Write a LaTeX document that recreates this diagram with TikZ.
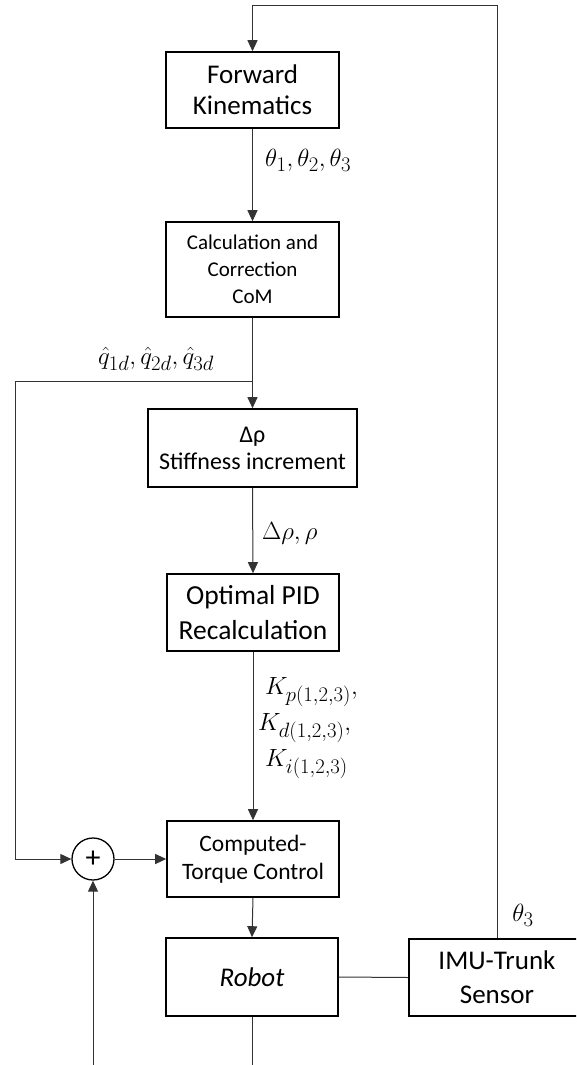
\documentclass[tikz,border=0pt]{standalone}
\usepackage[no-math]{fontspec}
\setmainfont{Carlito}
\usetikzlibrary{arrows.meta}
\begin{document}
\begin{tikzpicture}[x=1pt,y=-1pt,
  blk/.style={draw=black,line width=1.6pt,fill=white,align=center,inner sep=0pt,anchor=center},
  conn/.style={draw=black!80,line width=1pt},
  arr/.style={conn,-{Triangle[length=11pt,width=10pt]}},
  lbl/.style={inner sep=0pt,font=\fontsize{31}{36}\selectfont}
]
\useasboundingbox (0,0) rectangle (576,1065);
\clip (0,0) rectangle (576,1065);
\fill[white] (0,0) rectangle (576,1065);

\node[blk,minimum width=173pt,minimum height=76pt,font=\fontsize{27}{31}\selectfont] (fk) at (252.5,90) {Forward\\Kinematics};
\node[blk,minimum width=173pt,minimum height=95pt,font=\fontsize{21}{27}\selectfont] (calc) at (252.5,269.5) {Calculation and\\Correction\\CoM};
\node[blk,minimum width=209pt,minimum height=78pt,font=\fontsize{24}{27}\selectfont] (dr) at (252.5,448) {Δρ\\Stiffness increment};
\node[blk,minimum width=172pt,minimum height=77pt,font=\fontsize{27.5}{35}\selectfont] (opt) at (253,612.5) {Optimal PID\\Recalculation};
\node[blk,minimum width=172pt,minimum height=76pt,font=\fontsize{23.5}{28}\selectfont] (ctc) at (253,859) {Computed-\\Torque Control};
\node[blk,minimum width=172pt,minimum height=78pt,font=\fontsize{27}{30}\selectfont\itshape] (rob) at (252,977) {Robot};
\node[blk,minimum width=176pt,minimum height=77pt,font=\fontsize{27}{34}\selectfont] (imu) at (497,977.5) {IMU-Trunk\\Sensor};
\node[draw=black,line width=1.3pt,circle,minimum size=42pt,inner sep=0pt,font=\fontsize{30}{30}\selectfont] (sum) at (93,859) {+};

\coordinate (top1) at (497,6);
\coordinate (top2) at (252.5,6);
\coordinate (br) at (252.5,381);
\coordinate (brl) at (15,381);
\coordinate (brb) at (15,859);
\coordinate (inb) at (93,1065);
\coordinate (outb) at (252,1065);

\draw[arr] (imu.north) -- (top1) -- (top2) -- (fk.north);
\draw[arr] (fk.south) -- (calc.south |- calc.north);
\draw[arr] (calc.south) -- (dr.north);
\draw[arr] (br) -- (brl) -- (brb) -- (sum.west);
\draw[arr] (dr.south) -- (opt.north);
\draw[arr] (opt.south) -- (ctc.north);
\draw[arr] (sum.east) -- (ctc.west);
\draw[arr] (inb) -- (sum.south);
\draw[arr] (ctc.south) -- (rob.north);
\draw[conn] (rob.east) -- (imu.west);
\draw[conn] (rob.south) -- (outb);

\node[lbl,anchor=west] (l1) at (265,160) {$\theta_1,\theta_2,\theta_3$};
\node[lbl,anchor=center] (l2) at (156,359) {$\hat{q}_{1d},\hat{q}_{2d},\hat{q}_{3d}$};
\node[lbl,anchor=west,font=\fontsize{26}{30}\selectfont] (l3) at (262,533) {$\Delta\rho,\rho$};
\node[lbl,anchor=west,align=left] (l4) at (258,728) {\fontsize{30}{33}\selectfont$\;K_{p(1,2,3)},$\\$K_{d(1,2,3)},$\\$\;K_{i(1,2,3)}$};
\node[lbl,anchor=center] (l5) at (523,915) {$\theta_3$};
\end{tikzpicture}
\end{document}
